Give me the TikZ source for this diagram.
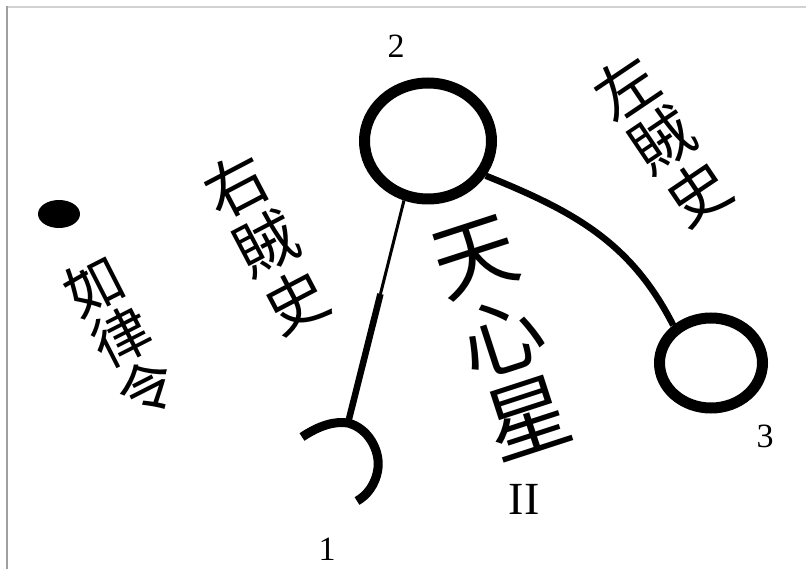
\documentclass[tikz,border=0pt]{standalone}
\usepackage{fontspec}
\setmainfont{Liberation Serif}
\newfontfamily\cjk{Noto Sans CJK TC}
\usetikzlibrary{shapes.geometric,calc}
\begin{document}
\begin{tikzpicture}[
    x=1pt, y=-1pt,
    ring/.style={draw, ellipse, line width=11pt, inner sep=0pt},
    seal/.style={fill, ellipse, inner sep=0pt, minimum width=42pt, minimum height=28pt},
    thin cord/.style={draw, line width=3pt},
    thick cord/.style={draw, line width=6.5pt},
    hook line/.style={draw, line width=9pt},
    numeral/.style={font=\fontsize{34}{34}\selectfont, inner sep=0pt},
    column/.style={align=center, inner sep=0pt},
    ]
\useasboundingbox (0,0) rectangle (806,569);
\draw[gray!35, line width=2pt] (7,7) -- (806,7);
\draw[gray!75, line width=1.5pt] (7,6) -- (7,569);
\node[ring, minimum width=127pt, minimum height=116pt] (ring2) at (428,141) {};
\node[ring, minimum width=103pt, minimum height=90pt] (ring3) at (711,363) {};
\node[seal] (seal) at (59,214) {};
\coordinate (hook) at (348,423);
\coordinate (knot) at ($(ring2.248)!0.42!(hook)$);
\draw[thin cord] (ring2.248) -- (knot);
\draw[thick cord] (knot) -- (hook);
\draw[hook line] (302,437) .. controls (320,425) and (335,421) .. (hook)
    .. controls (368,428) and (380,450) .. (378,468)
    .. controls (376,485) and (366,496) .. (357,501);
\draw[thick cord] (ring2.-31) to[out=-22,in=117] (ring3.135);
\node[numeral] (n2) at (396,46) {2};
\node[numeral] (n1) at (327,549) {1};
\node[numeral] (n3) at (765,436) {3};
\node[numeral, font=\fontsize{46}{46}\selectfont] (n4) at (524,499) {II};
\node[column, rotate=18, font=\cjk\fontsize{84}{85}\selectfont] (star) at (502,338) {天\\心\\星};
\node[column, rotate=27.7, font=\cjk\fontsize{62}{65.5}\selectfont] (right) at (266,243) {右\\賊\\史};
\node[column, rotate=34, font=\cjk\fontsize{62}{63.7}\selectfont] (left) at (662,140) {左\\賊\\史};
\node[column, rotate=27, font=\cjk\fontsize{58}{58}\selectfont] (order) at (121,337) {如\\律\\令};
\end{tikzpicture}
\end{document}
